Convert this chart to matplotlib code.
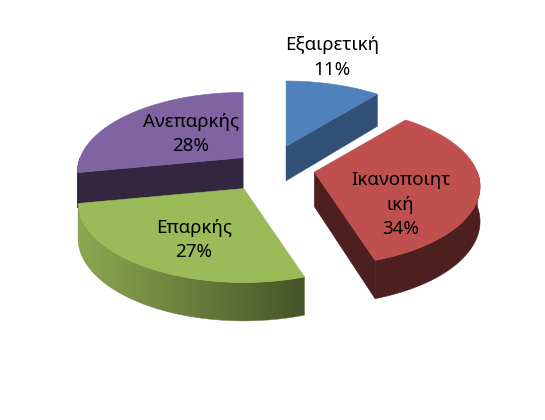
import textwrap
import numpy as np
import matplotlib
matplotlib.use("Agg")
import matplotlib.pyplot as plt
from matplotlib.patches import Polygon

# ---- data ----
categories = ["Εξαιρετική", "Ικανοποιητική", "Επαρκής", "Ανεπαρκής"]
values = [11, 34, 27, 28]
colors = ["#4F81BD", "#C0504D", "#9BBB59", "#8064A2"]

# ---- layout / style ----
CX, CY = 269.5, 168.0          # pie centre (pixels)
RX, RY = 163.0, 77.0           # ellipse radii
K = 0.18                       # perspective strength
DEPTH = 34.5                   # thickness of the pie
DGAMMA = 0.55
explode = [0.30, 0.28, 0.31, 0.21]
side_shade = [0.62, 0.40, 0.45, 0.39]
wall_grad = [(0.62, 0.62), (0.40, 0.40), (0.45, 0.90), (0.39, 0.39)]
label_rho = [1.50, 0.63, 0.655, 0.47]
label_dtheta = [-6, 28, -6, 4]
draw_order = [0, 3, 1, 2]      # back to front

fig = plt.figure(figsize=(5.45, 4.2), dpi=100)
ax = fig.add_axes([0, 0, 1, 1])
ax.set_xlim(0, 545)
ax.set_ylim(420, 0)
ax.axis("off")

vals = np.asarray(values, float)
fr = vals / vals.sum()
ends = np.cumsum(fr) * 360.0
starts = ends - fr * 360.0


def proj(theta, rho=1.0):
    """returns (dx, dy, depth) relative to slice apex"""
    t = np.radians(np.atleast_1d(theta))
    u = rho * np.sin(t)
    v = rho * np.cos(t)
    p = 1.0 / (1.0 + K * v)
    return RX * u * p, -RY * v * p, DEPTH * p ** DGAMMA


def shade(c, f):
    rgb = np.array(matplotlib.colors.to_rgb(c))
    return tuple(np.clip(rgb * f, 0, 1))


for i in draw_order:
    t1, t2 = starts[i], ends[i]
    b = np.radians((t1 + t2) / 2)
    apex = np.array([CX + RX * explode[i] * np.sin(b), CY - RY * explode[i] * np.cos(b)])
    th = np.linspace(t1, t2, 200)
    dx, dy, dd = proj(th)
    tx, ty = apex[0] + dx, apex[1] + dy
    col = colors[i]
    sc = shade(col, side_shade[i])

    # radial faces
    for tt, vis in ((t1, np.sin(np.radians(t1)) < -1e-9), (t2, np.sin(np.radians(t2)) > 1e-9)):
        if vis:
            ex, ey, ed = proj(tt)
            px, py = apex[0] + ex[0], apex[1] + ey[0]
            quad = [(apex[0], apex[1]), (px, py), (px, py + ed[0]), (apex[0], apex[1] + DEPTH)]
            ax.add_patch(Polygon(quad, closed=True, fc=sc, ec=sc, lw=0.4))

    # outer curved wall (front-facing part)
    m = (th > 90.0) & (th < 270.0)
    if m.sum() > 1:
        wx, wy, wd = tx[m], ty[m], dd[m]
        poly = np.vstack([np.column_stack([wx, wy]),
                          np.column_stack([wx[::-1], (wy + wd)[::-1]])])
        f0, f1 = wall_grad[i]
        if abs(f1 - f0) < 1e-6:
            fc = shade(col, f0)
            ax.add_patch(Polygon(poly, closed=True, fc=fc, ec=fc, lw=0.4))
        else:
            clip = Polygon(poly, closed=True, fc="none", ec="none")
            ax.add_patch(clip)
            # gradient along x, from the x at t1 (f0) to the x at t2 (f1)
            xa, xb = tx[0], tx[-1]
            xs = np.linspace(poly[:, 0].min(), poly[:, 0].max(), 300)
            ff = f0 + (f1 - f0) * np.clip((xs - xa) / (xb - xa), 0, 1)
            rgb = np.array(matplotlib.colors.to_rgb(col))
            img = np.clip(ff[None, :, None] * rgb[None, None, :], 0, 1)
            img = np.repeat(img, 2, axis=0)
            im = ax.imshow(img, extent=(xs[0], xs[-1], (wy + wd).max() + 1, wy.min() - 1),
                           aspect="auto", interpolation="bilinear", zorder=1)
            im.set_clip_path(clip)
            ax.add_patch(Polygon(poly, closed=True, fc="none",
                                 ec=shade(col, 0.5 * (f0 + f1)), lw=0.3, zorder=1))

    # top face
    top = np.vstack([apex, np.column_stack([tx, ty])])
    ax.add_patch(Polygon(top, closed=True, fc=col, ec=col, lw=0.4, zorder=1))

    # label
    lt = (t1 + t2) / 2 + label_dtheta[i]
    lx, ly, _ = proj(lt, label_rho[i])
    txt = textwrap.fill(categories[i], 10, break_long_words=True) + "\n" + f"{values[i]}%"
    ax.text(apex[0] + lx[0], apex[1] + ly[0], txt, ha="center", va="center", fontsize=13.5,
            family=["Noto Sans", "DejaVu Sans"], color="#000000", linespacing=1.45, zorder=5)

fig.savefig("out.png", dpi=100)
